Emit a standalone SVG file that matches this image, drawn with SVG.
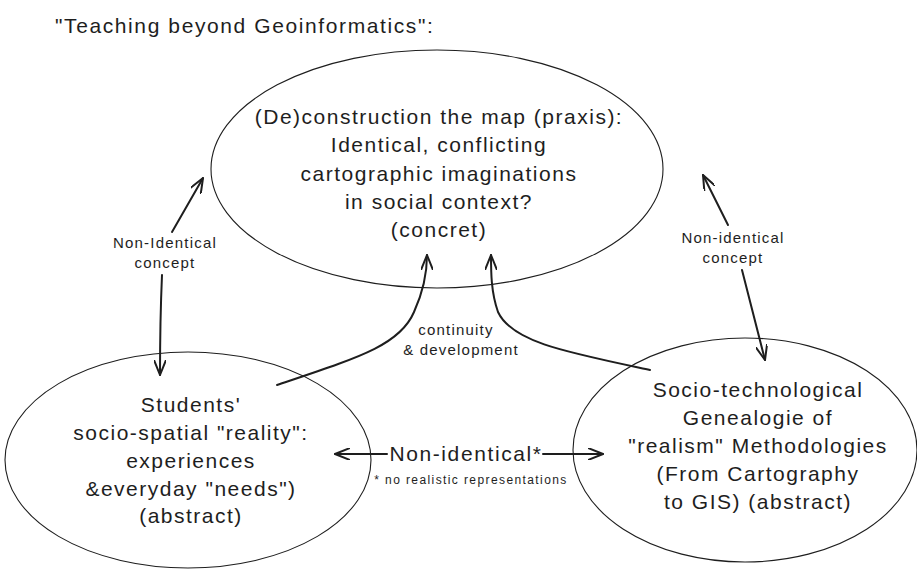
<svg xmlns="http://www.w3.org/2000/svg" width="917" height="570" viewBox="0 0 917 570">
<defs>
<style>
text{font-family:"Liberation Sans","DejaVu Sans",sans-serif;fill:#1e1e1e;text-anchor:middle}
.node{fill:none;stroke:#1e1e1e;stroke-width:1.1}
.big{font-size:21px;letter-spacing:1.5px}
.lbl{font-size:15px;letter-spacing:1.2px}
.conn{fill:none;stroke:#1e1e1e;stroke-width:2;stroke-linecap:round}
</style>
<marker id="ah" viewBox="0 0 16 12" refX="15" refY="6" markerWidth="16" markerHeight="12" markerUnits="userSpaceOnUse" orient="auto">
<path d="M0,0 L15,6 L0,12" fill="none" stroke="#1e1e1e" stroke-width="2" stroke-linecap="round" stroke-linejoin="round"/>
</marker>
</defs>
<rect width="917" height="570" fill="#ffffff"/>
<text x="55" y="33" class="big" style="text-anchor:start;letter-spacing:1.6px">"Teaching beyond Geoinformatics":</text>
<g id="node-top">
<ellipse class="node" cx="437" cy="169" rx="226" ry="119"/>
<text class="big" x="439" y="124">(De)construction the map (praxis):</text>
<text class="big" x="439" y="152">Identical, conflicting</text>
<text class="big" x="439" y="181">cartographic imaginations</text>
<text class="big" x="439" y="209">in social context?</text>
<text class="big" x="439" y="237">(concret)</text>
</g>
<g id="node-left">
<ellipse class="node" cx="188" cy="460" rx="183" ry="108"/>
<text class="big" x="191" y="412">Students'</text>
<text class="big" x="191" y="440">socio-spatial "reality":</text>
<text class="big" x="191" y="468">experiences</text>
<text class="big" x="191" y="496">&amp;everyday "needs")</text>
<text class="big" x="191" y="523">(abstract)</text>
</g>
<g id="node-right">
<ellipse class="node" cx="745" cy="450" rx="172" ry="112"/>
<text class="big" x="758" y="397">Socio-technological</text>
<text class="big" x="758" y="425">Genealogie of</text>
<text class="big" x="758" y="453">"realism" Methodologies</text>
<text class="big" x="758" y="481">(From Cartography</text>
<text class="big" x="758" y="509">to GIS) (abstract)</text>
</g>
<g id="connectors">
<path class="conn" d="M172,232 L203,178" marker-end="url(#ah)"/>
<path class="conn" d="M162,275 Q160,320 160,375" marker-end="url(#ah)"/>
<text class="lbl" x="165" y="248">Non-Identical</text>
<text class="lbl" x="165" y="268">concept</text>
<path class="conn" d="M728,225 L703,175" marker-end="url(#ah)"/>
<path class="conn" d="M742,270 L765,360" marker-end="url(#ah)"/>
<text class="lbl" x="733" y="243">Non-identical</text>
<text class="lbl" x="733" y="263">concept</text>
<path class="conn" d="M277,385 C360,357 400,345 414,312 C424,290 427,270 427,255" marker-end="url(#ah)"/>
<path class="conn" d="M650,370 C565,352 512,342 498,312 C491,292 491,272 491,255" marker-end="url(#ah)"/>
<text class="lbl" x="456" y="335">continuity</text>
<text class="lbl" x="461" y="355">&amp; development</text>
<path class="conn" d="M387,454 L335,454" marker-end="url(#ah)"/>
<path class="conn" d="M543,454 L603,454" marker-end="url(#ah)"/>
<text x="466" y="461" style="font-size:21px;letter-spacing:1.6px">Non-identical*</text>
<text x="471" y="484" style="font-size:12px;letter-spacing:1.4px">* no realistic representations</text>
</g>
</svg>
